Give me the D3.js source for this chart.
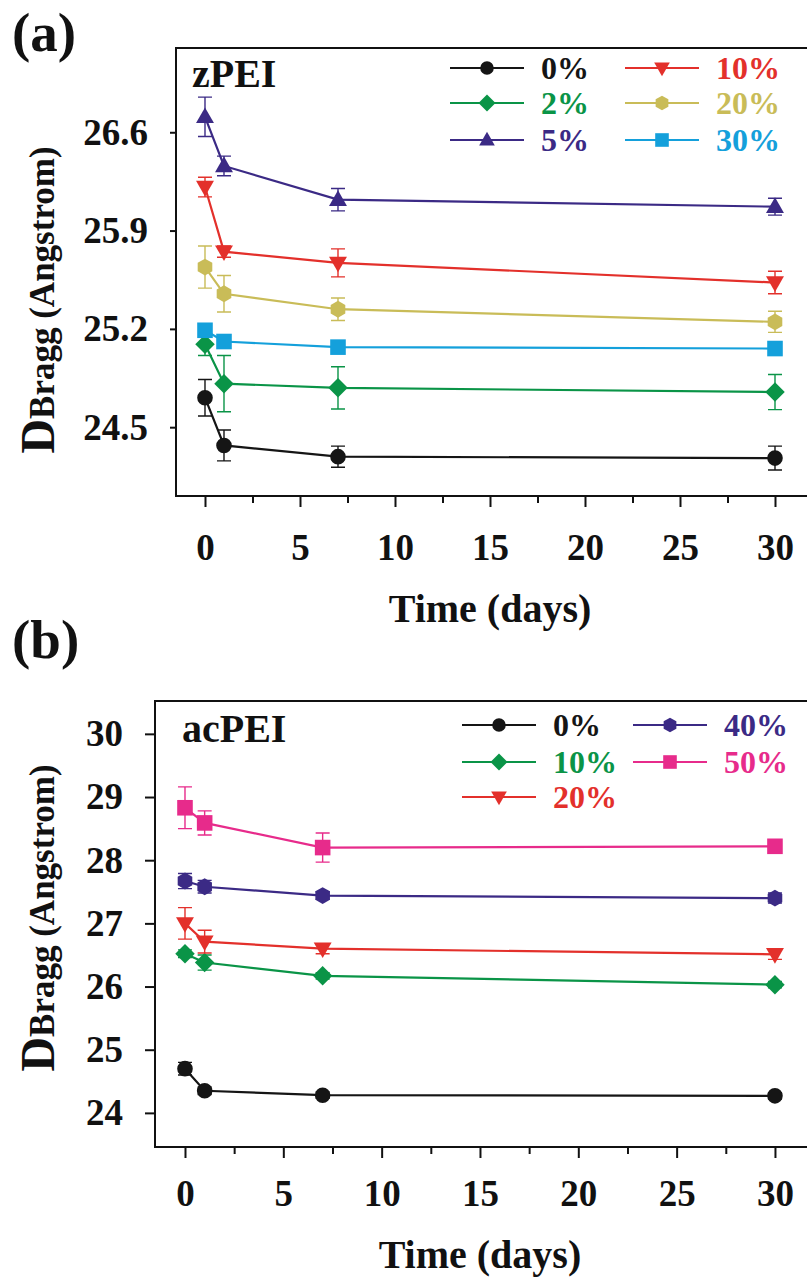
<!DOCTYPE html>
<html>
<head>
<meta charset="utf-8">
<script src="https://cdn.jsdelivr.net/npm/d3@7"></script>
<style>
body { margin: 0; background: #fff; }
text { font-family: "Liberation Serif", "Times New Roman", serif; font-weight: bold; }
</style>
</head>
<body>
<svg id="fig" width="807" height="1283"></svg>
<script>
// time points (days)
var days = [0, 1, 7, 30];
var xMajor = [0, 5, 10, 15, 20, 25, 30];
var xMinor = [2.5, 7.5, 12.5, 17.5, 22.5, 27.5];

// (a) zPEI
var zNames = ["0%", "2%", "5%", "10%", "20%", "30%"];
var zMean = [
  [24.71, 24.37, 24.29, 24.28],
  [25.09, 24.81, 24.78, 24.75],
  [26.71, 26.36, 26.12, 26.07],
  [26.21, 25.75, 25.67, 25.53],
  [25.64, 25.45, 25.34, 25.25],
  [25.19, 25.11, 25.07, 25.06]
];
var zErr = [
  [0.13, 0.11, 0.075, 0.085],
  [0.08, 0.20, 0.15, 0.125],
  [0.14, 0.07, 0.08, 0.06],
  [0.07, 0.04, 0.10, 0.08],
  [0.15, 0.13, 0.08, 0.075],
  [0.02, 0.03, 0.02, 0.02]
];
var zTicks = [24.5, 25.2, 25.9, 26.6];

// (b) acPEI
var aNames = ["0%", "10%", "20%", "40%", "50%"];
var aMean = [
  [24.70, 24.35, 24.28, 24.27],
  [26.52, 26.38, 26.17, 26.03],
  [27.00, 26.71, 26.60, 26.51],
  [27.67, 27.58, 27.44, 27.40],
  [28.83, 28.59, 28.20, 28.22]
];
var aErr = [
  [0.10, 0.06, 0.05, 0.05],
  [0.06, 0.12, 0.05, 0.05],
  [0.25, 0.18, 0.08, 0.08],
  [0.12, 0.10, 0.06, 0.08],
  [0.33, 0.19, 0.23, 0.10]
];
var aTicks = [24, 25, 26, 27, 28, 29, 30];

var col = {
  black: "#151515", green: "#0a9447", indigo: "#3b2a85", red: "#e3302b",
  olive: "#c9bc58", cyan: "#14a0db", magenta: "#e72b8b"
};

var svg = d3.select("#fig");

function shapePath(shape, s){
  var p = [];
  if(shape == "circle"){
    return "M" + s + ",0A" + s + "," + s + " 0 1,1 " + (-s) + ",0A" + s + "," + s + " 0 1,1 " + s + ",0Z";
  }else if(shape == "square"){
    p = [[-s,-s],[s,-s],[s,s],[-s,s]];
  }else if(shape == "diamond"){
    var d = s*1.25;
    p = [[0,-d],[d,0],[0,d],[-d,0]];
  }else if(shape == "up"){
    p = [[0,-s*1.2],[s*1.15,s*0.8],[-s*1.15,s*0.8]];
  }else if(shape == "down"){
    p = [[0,s*1.2],[s*1.15,-s*0.8],[-s*1.15,-s*0.8]];
  }else if(shape == "hex"){
    for(var k=0;k<6;k++){
      var a = (-90 + 60*k)*Math.PI/180;
      p.push([s*1.08*Math.cos(a), s*1.08*Math.sin(a)]);
    }
  }
  return "M" + p.map(function(q){ return q[0].toFixed(2) + "," + q[1].toFixed(2); }).join("L") + "Z";
}

function drawPanel(cfg){
  var g = svg.append("g");
  var x = d3.scaleLinear().domain(cfg.xDomain).range([cfg.left, cfg.right]);
  var y = d3.scaleLinear().domain(cfg.yDomain).range([cfg.bottom, cfg.top]);

  // axes
  var gy = g.append("g").attr("transform", "translate(" + cfg.left + ",0)")
    .call(d3.axisLeft(y).tickValues(cfg.yTicks).tickSize(cfg.yTick).tickPadding(cfg.yPad).tickFormat(cfg.yFmt));
  var gx = g.append("g").attr("transform", "translate(0," + cfg.bottom + ")")
    .call(d3.axisBottom(x).tickValues(xMajor).tickSize(11).tickPadding(cfg.xPad));
  var gm = g.append("g").attr("transform", "translate(0," + cfg.bottom + ")")
    .call(d3.axisBottom(x).tickValues(xMinor).tickSize(7).tickFormat(""));
  [gx, gy, gm].forEach(function(a){
    a.select(".domain").remove();
    a.selectAll("line").attr("stroke", "#111").attr("stroke-width", 2);
    a.selectAll("text").attr("font-size", 37).attr("fill", "#111")
      .attr("font-family", "Liberation Serif").attr("font-weight", "bold");
  });

  g.append("rect").attr("x", cfg.left).attr("y", cfg.top)
    .attr("width", cfg.right - cfg.left).attr("height", cfg.bottom - cfg.top)
    .attr("fill", "none").attr("stroke", "#111").attr("stroke-width", 2);

  var line = d3.line().x(function(d){ return x(d[0]); }).y(function(d){ return y(d[1]); });

  cfg.mean.forEach(function(m, i){
    var c = cfg.colors[i];
    var pts = days.map(function(t, j){ return [t, m[j], cfg.err[i][j]]; });
    var s = g.append("g");
    pts.forEach(function(p){
      var cx = x(p[0]), y0 = y(p[1] - p[2]), y1 = y(p[1] + p[2]);
      s.append("path")
        .attr("d", "M" + cx + "," + y0 + "V" + y1 + "M" + (cx-7) + "," + y0 + "H" + (cx+7) + "M" + (cx-7) + "," + y1 + "H" + (cx+7))
        .attr("stroke", c).attr("stroke-width", 1.4).attr("fill", "none");
    });
    s.append("path").attr("d", line(pts)).attr("fill", "none").attr("stroke", c).attr("stroke-width", 2.2);
    s.selectAll(".mk").data(pts).enter().append("path")
      .attr("transform", function(p){ return "translate(" + x(p[0]) + "," + y(p[1]) + ")"; })
      .attr("d", shapePath(cfg.shapes[i], 7.8)).attr("fill", c);
  });

  // legend
  cfg.names.forEach(function(n, i){
    var L = cfg.legend[i];
    var c = cfg.colors[i];
    g.append("line").attr("x1", L[0]).attr("x2", L[0] + 74).attr("y1", L[1]).attr("y2", L[1])
      .attr("stroke", c).attr("stroke-width", 2.2);
    g.append("path").attr("transform", "translate(" + (L[0] + 37) + "," + L[1] + ")")
      .attr("d", shapePath(cfg.shapes[i], 6.8)).attr("fill", c);
    g.append("text").attr("x", L[0] + 91).attr("y", L[1] + 11).attr("font-size", 32)
      .attr("fill", c).text(n);
  });

  g.append("text").attr("x", cfg.left + cfg.tagDx).attr("y", cfg.tagY).attr("font-size", 40)
    .attr("fill", "#111").text(cfg.tag);
  g.append("text").attr("x", 12).attr("y", cfg.labelY).attr("font-size", 55)
    .attr("fill", "#111").text(cfg.label);

  var yt = g.append("text").attr("transform", "translate(54," + cfg.yTitleMid + ") rotate(-90)")
    .attr("text-anchor", "middle").attr("fill", "#111");
  yt.append("tspan").attr("font-size", 48).text("D");
  yt.append("tspan").attr("font-size", 35).text("Bragg (Angstrom)");

  g.append("text").attr("x", x(15)).attr("y", cfg.xTitleY).attr("text-anchor", "middle")
    .attr("font-size", 40).attr("fill", "#111").text("Time (days)");
}

drawPanel({
  left: 176, right: 808, top: 48, bottom: 496,
  xDomain: [-1.526, 31.737], yDomain: [24.01, 27.2],
  yTicks: zTicks, yFmt: d3.format(".1f"), yTick: 6, yPad: 22, xPad: 27,
  names: zNames, mean: zMean, err: zErr,
  colors: [col.black, col.green, col.indigo, col.red, col.olive, col.cyan],
  shapes: ["circle", "diamond", "up", "down", "hex", "square"],
  legend: [[450, 68], [450, 103], [450, 140], [625, 68], [625, 103], [625, 140]],
  tag: "zPEI", tagDx: 16, tagY: 87, label: "(a)", labelY: 51,
  yTitleMid: 300, xTitleY: 622
});

drawPanel({
  left: 155, right: 808, top: 701, bottom: 1147,
  xDomain: [-1.525, 31.68], yDomain: [23.46, 30.52],
  yTicks: aTicks, yFmt: d3.format("d"), yTick: 10, yPad: 22, xPad: 22,
  names: aNames, mean: aMean, err: aErr,
  colors: [col.black, col.green, col.red, col.indigo, col.magenta],
  shapes: ["circle", "diamond", "down", "hex", "square"],
  legend: [[462, 725], [462, 762], [462, 797], [633, 725], [633, 762]],
  tag: "acPEI", tagDx: 27, tagY: 742, label: "(b)", labelY: 658,
  yTitleMid: 918, xTitleY: 1268
});
</script>
</body>
</html>
